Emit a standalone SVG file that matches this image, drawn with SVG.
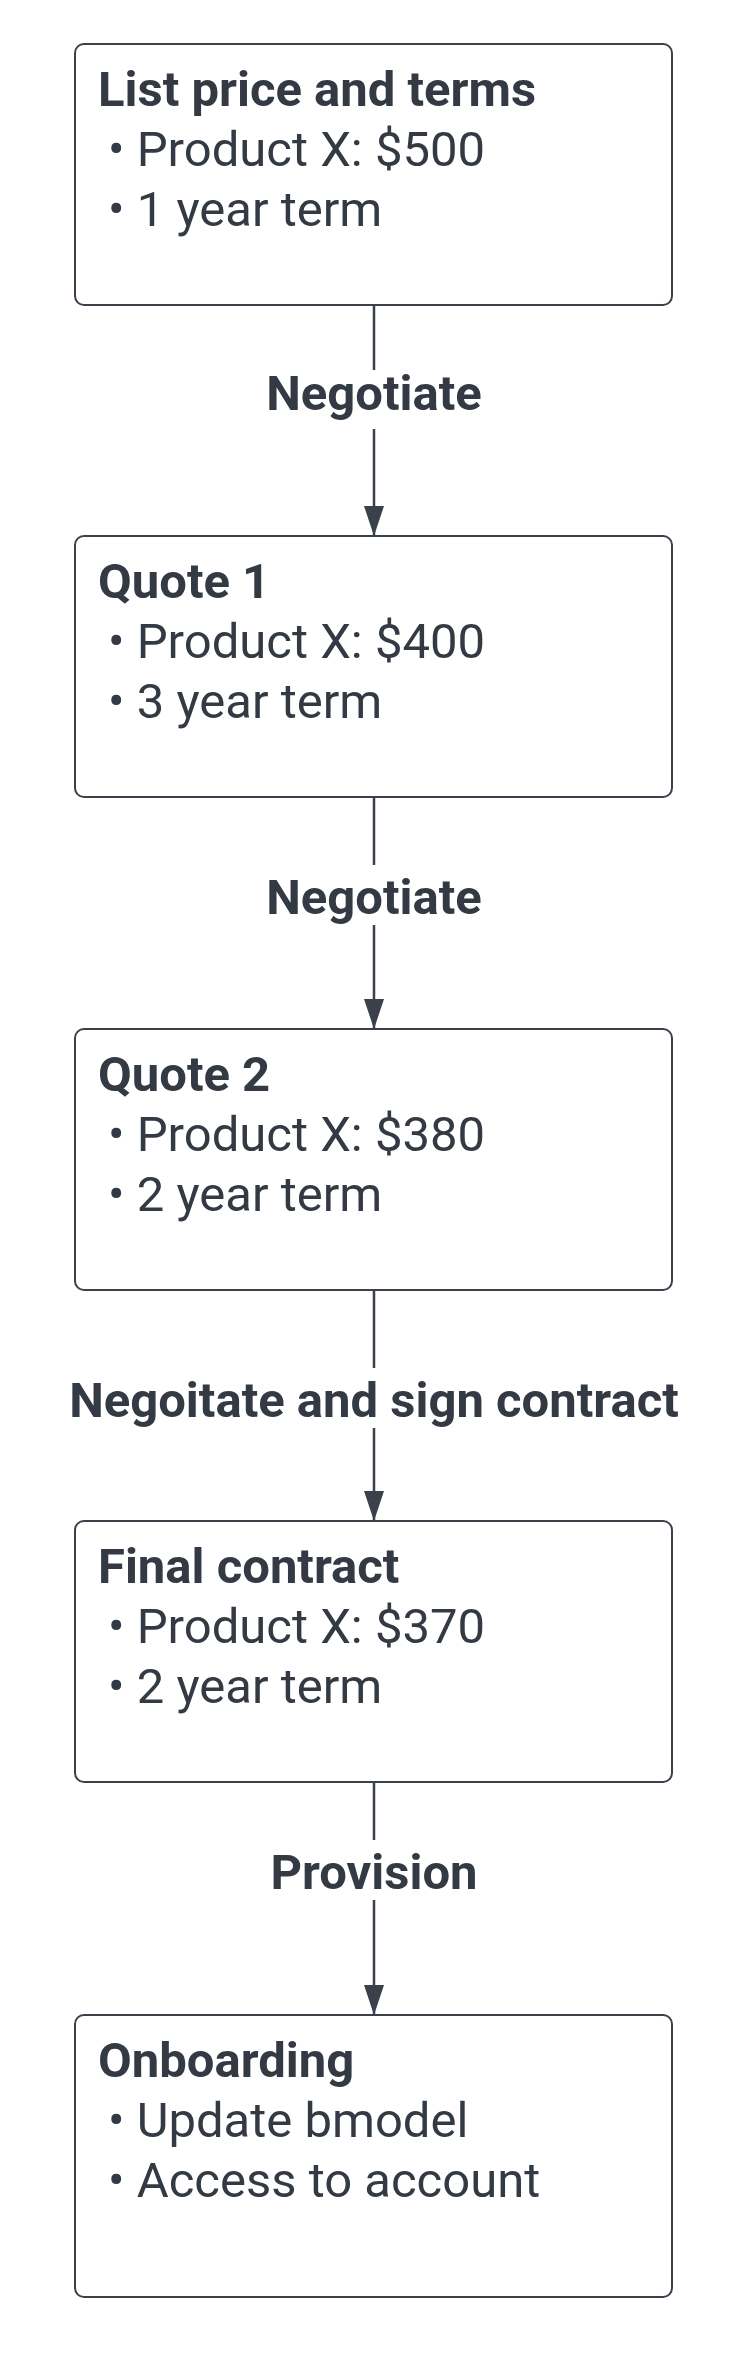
<svg xmlns="http://www.w3.org/2000/svg" width="750" height="2363" viewBox="0 0 750 2363">
<style>
.box{fill:#fff;stroke:#3a414a;stroke-width:2}
.t{font-family:Roboto,"Liberation Sans",sans-serif;fill:#333a44;font-size:49px}
.b{font-weight:bold}
.c{text-anchor:middle}
.ln{stroke:#3a414a;stroke-width:2.5;fill:none}
</style>
<defs><marker id="ah" markerWidth="10" markerHeight="14" refX="10" refY="7" orient="auto" markerUnits="userSpaceOnUse" viewBox="0 0 10 14"><path d="M0,0 L10,7 L0,14 Z" fill="#3a414a" transform="scale(1)"/></marker>
<marker id="a2" markerWidth="30" markerHeight="20" refX="30" refY="10" orient="auto" markerUnits="userSpaceOnUse"><path d="M0,0 L30,10 L0,20 Z" fill="#3a414a"/></marker></defs>
<rect width="750" height="2363" fill="#fff"/>
<g id="connectors">
<path class="ln" d="M374,305 V370 M374,429 V536" marker-end="url(#a2)"/>
<path class="ln" d="M374,797 V865 M374,925 V1029" marker-end="url(#a2)"/>
<path class="ln" d="M374,1290 V1368 M374,1428 V1521" marker-end="url(#a2)"/>
<path class="ln" d="M374,1782 V1840 M374,1900 V2015" marker-end="url(#a2)"/>
<text class="t b c" x="374" y="410">Negotiate</text>
<text class="t b c" x="374" y="914">Negotiate</text>
<text class="t b c" x="374" y="1417">Negoitate and sign contract</text>
<text class="t b c" x="374" y="1889">Provision</text>
</g>
<g id="n1"><rect class="box" x="75" y="44" width="597" height="261" rx="9"/>
<text class="t b" x="98" y="106">List price and terms</text>
<text class="t" x="108" y="166">• Product X: $500</text><text class="t" x="108" y="226">• 1 year term</text></g>
<g id="n2"><rect class="box" x="75" y="536" width="597" height="261" rx="9"/>
<text class="t b" x="98" y="598">Quote 1</text>
<text class="t" x="108" y="658">• Product X: $400</text><text class="t" x="108" y="718">• 3 year term</text></g>
<g id="n3"><rect class="box" x="75" y="1029" width="597" height="261" rx="9"/>
<text class="t b" x="98" y="1091">Quote 2</text>
<text class="t" x="108" y="1151">• Product X: $380</text><text class="t" x="108" y="1211">• 2 year term</text></g>
<g id="n4"><rect class="box" x="75" y="1521" width="597" height="261" rx="9"/>
<text class="t b" x="98" y="1583">Final contract</text>
<text class="t" x="108" y="1643">• Product X: $370</text><text class="t" x="108" y="1703">• 2 year term</text></g>
<g id="n5"><rect class="box" x="75" y="2015" width="597" height="282" rx="9"/>
<text class="t b" x="98" y="2077">Onboarding</text>
<text class="t" x="108" y="2137">• Update bmodel</text><text class="t" x="108" y="2197">• Access to account</text></g>
</svg>
